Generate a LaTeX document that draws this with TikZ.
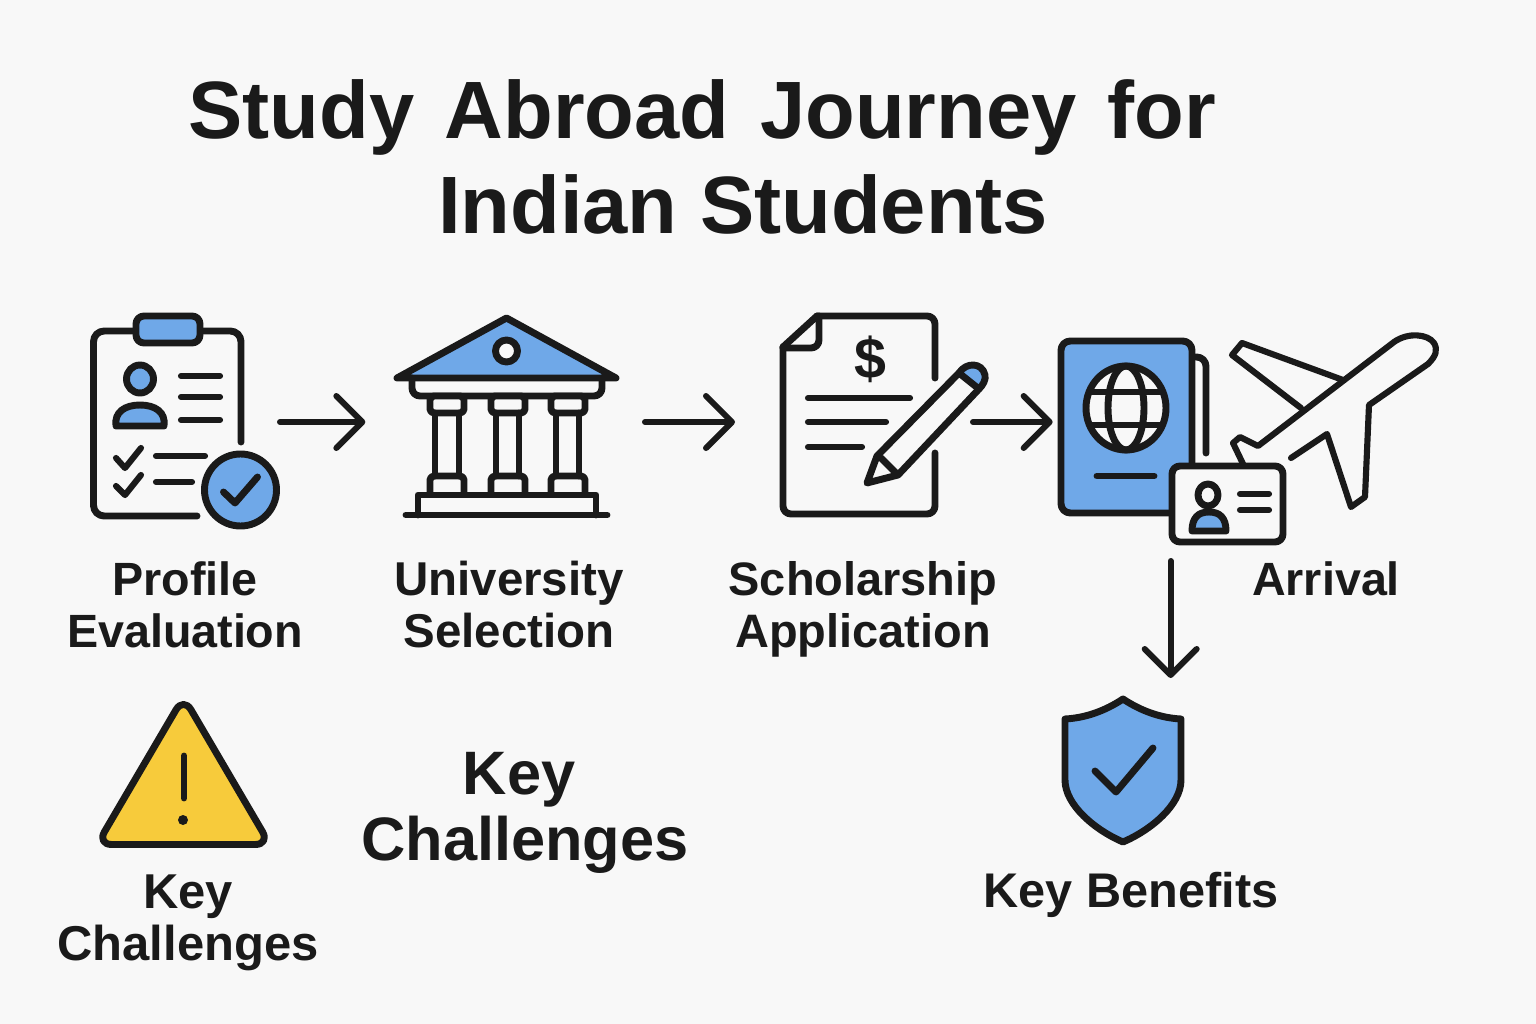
\documentclass[tikz,border=0pt]{standalone}
\usepackage{fontspec}
\usetikzlibrary{arrows.meta}
\setmainfont{Liberation Sans}
\definecolor{ink}{HTML}{1A1A1A}
\definecolor{paper}{HTML}{F8F8F8}
\definecolor{sky}{HTML}{6FA8E8}
\definecolor{amber}{HTML}{F7CB3B}
\tikzset{
  ico/.style={line width=5.2pt,draw=ink,line cap=round,line join=round},
  thin/.style={line width=4.6pt,draw=ink,line cap=round,line join=round},
  iconbox/.style={inner sep=0pt,outer sep=0pt},
  flow/.style={line width=4.5pt,draw=ink,line cap=round,-{Straight Barb[length=19.5pt,width=39pt,round,line width=4.5pt]}},
  lab/.style={font=\fontsize{35}{39}\selectfont\bfseries,text=ink,inner sep=0pt,align=center,anchor=base},
  bigtitle/.style={font=\fontsize{61}{61}\selectfont\bfseries,text=ink,inner sep=0pt,anchor=base},
}
\begin{document}
\begin{tikzpicture}[x=0.75pt,y=-0.75pt]
\useasboundingbox (0,0) rectangle (1536,1024);
\fill[paper] (0,0) rectangle (1536,1024);
% layout anchors
\node[iconbox,minimum width=142.5pt,minimum height=162pt] (profile) at (185,422) {};
\node[iconbox,minimum width=171pt,minimum height=162pt] (university) at (506,422) {};
\node[iconbox,minimum width=142.5pt,minimum height=162pt] (scholarship) at (878,422) {};
\node[iconbox,minimum width=100pt,minimum height=162pt] (passport) at (1122,422) {};
\node[iconbox,minimum width=90pt,minimum height=110pt] (shield) at (1123,770) {};
% title
\node[bigtitle] (t1) at (702,138) {\spaceskip=23pt Study Abroad Journey for};
\node[bigtitle] (t2) at (743,233) {Indian Students};
% profile
\draw[ico,rounded corners=8pt] (197,516) -- (93.5,516) -- (93.5,331) -- (241,331) -- (241,442);
\draw[ico,fill=sky,rounded corners=6pt] (136,343) -- (136,316) -- (200,316) -- (200,343) -- cycle;
\draw[ico,fill=sky] (140,379) ellipse [x radius=13.5,y radius=14];
\draw[ico,fill=sky] (116,426) -- (164,426) .. controls (166,412) and (155,405) .. (140,405) .. controls (125,405) and (114,412) .. (116,426) -- cycle;
\foreach \yy in {376,397,420} \draw[thin] (181,\yy) -- (220,\yy);
\draw[thin] (116,458) -- (125,468) -- (141,448);
\draw[thin] (116,486) -- (125,495) -- (141,475);
\draw[thin] (156,456) -- (205,456);
\draw[thin] (156,482) -- (192,482);
\draw[ico,fill=sky] (240.5,490) circle (36);
\draw[ico] (223.5,492) -- (235,503) -- (257.5,477);
% university
\draw[ico,fill=sky] (506.5,318) -- (397,378) -- (616,378) -- cycle;
\draw[ico,fill=paper] (506.5,351) circle (11);
\draw[ico,rounded corners=6pt] (412,378) -- (412,396) -- (602,396) -- (602,378);
\foreach \xa/\xb/\ca/\cb in {430/464/435/459,491/525/496/519,551/585/556/579}{
  \draw[ico,fill=paper,rounded corners=3pt] (\xa,396) rectangle (\xb,413);
  \draw[ico] (\ca,413) -- (\ca,476) (\cb,413) -- (\cb,476);
  \draw[ico,rounded corners=3pt] (\xa,494) -- (\xa,476) -- (\xb,476) -- (\xb,494);
}
\draw[ico] (418,515) -- (418,495) -- (596,495) -- (596,515);
\draw[ico] (406,515) -- (607,515);
% scholarship
\draw[ico,rounded corners=6pt] (935,378) -- (935,316) -- (817,316);
\draw[ico] (817,316) -- (783,347);
\draw[ico,rounded corners=6pt] (783,347) -- (783,514) -- (935,514) -- (935,453);
\draw[ico,rounded corners=6pt] (819,316) -- (819,348) -- (783,348);
\node[text=ink,inner sep=0pt,font=\fontsize{43}{43}\selectfont\bfseries] (dollar) at (870,359) {\$};
\draw[thin] (808,398) -- (910,398);
\draw[thin] (808,422) -- (886,422);
\draw[thin] (808,447) -- (862,447);
\draw[ico,fill=sky] (959,373) .. controls (966,362) and (982,362) .. (985,375) .. controls (986,380) and (983,385) .. (979,389) -- cycle;
\draw[ico] (959,373) -- (877,456) -- (867,483) -- (898,475) -- (979,389);
\draw[ico] (881,458) -- (897,474);
% passport pages
\draw[ico,rounded corners=7pt] (1192,357) -- (1206,357) -- (1206,453);
\draw[ico,fill=sky,rounded corners=7pt] (1061,341) rectangle (1192,513);
\draw[ico,fill=paper] (1126,408) ellipse [x radius=40,y radius=42];
\draw[ico] (1126,408) ellipse [x radius=18,y radius=42];
\draw[ico] (1090,392) -- (1162,392) (1090,425) -- (1162,425);
\draw[ico] (1097,476) -- (1154,476);
% plane
\draw[thin] (1244,466) -- (1233,443) -- (1240,437) -- (1258,446) -- (1394,342) .. controls (1408,332) and (1428,334) .. (1434,343) .. controls (1438,350) and (1436,356) .. (1428,364) -- (1369,405) -- (1365,497) -- (1351,507) -- (1327,434) -- (1291,458);
\draw[thin] (1343,380) -- (1242,343) -- (1232,355) -- (1301,408);
% id card
\draw[ico,fill=paper,rounded corners=6pt] (1172,466) rectangle (1283,542);
\node[iconbox,minimum width=83.25pt,minimum height=57pt] (card) at (1227.5,504) {};
\draw[ico] (1208,495) ellipse [x radius=10,y radius=11];
\draw[ico,fill=sky] (1192,531) -- (1226,531) .. controls (1226,518) and (1220,512) .. (1209,512) .. controls (1198,512) and (1192,518) .. (1192,531) -- cycle;
\draw[thin] (1240,494) -- (1269,494) (1240,510) -- (1269,510);
% warning
\draw[ico,fill=amber,rounded corners=11pt] (183.5,697) -- (97,844.5) -- (270,844.5) -- cycle;
\draw[line width=5.2pt,draw=ink,line cap=round] (184,756) -- (184,798);
\fill[ink] (183,820) circle (5);
% shield
\draw[ico,fill=sky] (1123,699) .. controls (1105,711) and (1085,718) .. (1065,719) -- (1065,780) .. controls (1065,805) and (1095,830) .. (1123,842) .. controls (1151,830) and (1181,805) .. (1181,780) -- (1181,719) .. controls (1161,718) and (1141,711) .. (1123,699) -- cycle;
\draw[ico] (1095,771) -- (1116,792) -- (1153,748);
% connectors
\draw[flow,shorten >=20pt] (profile.east) -- (university.west);
\draw[flow,shorten <=18.75pt,shorten >=36pt] (university.east) -- (scholarship.west);
\draw[flow,shorten >=2pt] (scholarship.east) -- (passport.west);
\coordinate (a4s) at (1170.7,561);
\coordinate (a4e) at (1170.7,678);
\draw[flow] (a4s) -- (a4e);
% labels
\node[lab] (l1) at (185,647) {Profile\\Evaluation};
\node[lab,font=\fontsize{35.6}{39}\selectfont\bfseries] (l2) at (509,647) {University\\Selection};
\node[lab,font=\fontsize{35.2}{39}\selectfont\bfseries] (l3) at (863,647) {Scholarship\\Application};
\node[lab] (l4) at (1326,595) {Arrival};
\node[lab,font=\fontsize{36.7}{39}\selectfont\bfseries] (l5) at (188,960) {Key\\Challenges};
\node[lab,font=\fontsize{46}{49}\selectfont\bfseries] (l6) at (525,860) {\hspace*{-9pt}Key\\Challenges};
\node[lab,font=\fontsize{36.5}{39}\selectfont\bfseries] (l7) at (1131,907) {Key Benefits};
\end{tikzpicture}
\end{document}
